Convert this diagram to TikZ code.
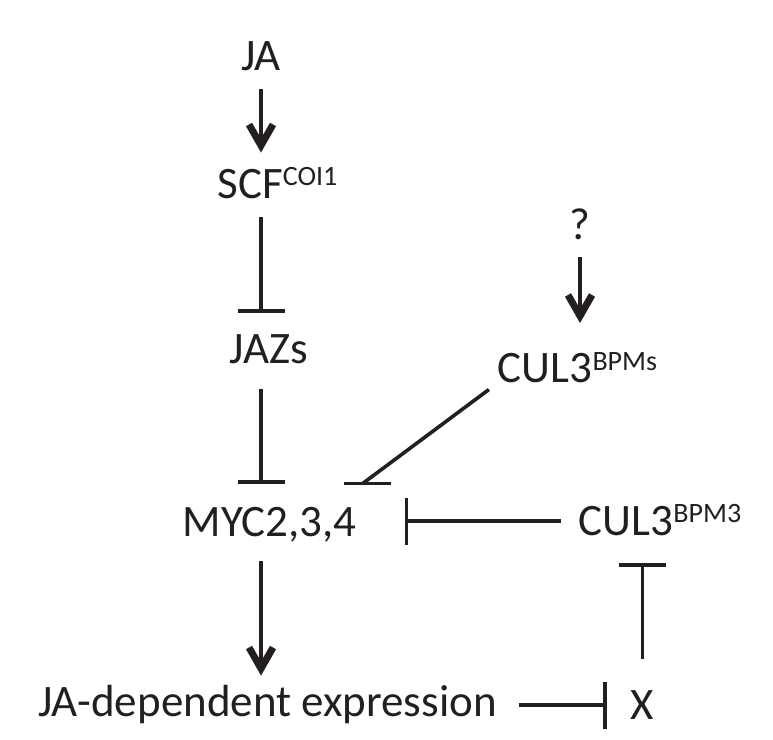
\documentclass[tikz,border=0pt]{standalone}
\usepackage{fontspec}
\setmainfont{Carlito}
\usepackage{tikz}
\usetikzlibrary{arrows.meta, positioning}

\definecolor{ink}{HTML}{231F20}
\newcommand{\sups}[1]{\raisebox{12.5pt}{\fontsize{28}{32}\selectfont #1}}

\begin{document}
\begin{tikzpicture}[
    x=1pt, y=1pt, on grid,
    lbl/.style={inner sep=0pt, text height=28.5pt, text depth=0pt, text=ink, font=\fontsize{45}{54}\selectfont},
    link/.style={line width=3.6pt, draw=ink},
    act/.style={link, -{Straight Barb[length=21pt, width=24pt, line width=3.4pt 1]}},
    inh/.style={link, -{Bar[width=47pt]}}
]
    \useasboundingbox (0,0) rectangle (773,-739);

    \node (ja) [lbl] at (261,-56.5) {JA};
    \node (scf) [lbl, below=127.5pt of ja, xshift=16.5pt] {SCF\sups{COI1}};
    \node (jazs) [lbl, below=165pt of scf, xshift=-8.5pt] {JAZs};
    \node (myc) [lbl, below=173pt of jazs, xshift=0.5pt] {MYC2,3,4};
    \node (expr) [lbl, below=180pt of myc, xshift=-2pt] {JA-dependent expression};
    \node (x) [lbl, right=375pt of expr, yshift=-3pt] {X};
    \node (bpm3) [lbl, above=184pt of x, xshift=17.5pt] {CUL3\sups{BPM3}};
    \node (q) [lbl] at (580,-225) {?};
    \node (bpms) [lbl, below=143.5pt of q, xshift=-2.5pt] {CUL3\sups{BPMs}};
    \coordinate (hit) at ([shift={(6pt,24pt)}]myc.north east);

    \draw [act, shorten <=18pt, shorten >=17pt] (ja.south) -- (ja |- scf.north);
    \draw [inh, shorten <=19pt, shorten >=22pt] (ja |- scf.south) -- (ja |- jazs.north);
    \draw [inh, shorten <=26pt, shorten >=24pt] (ja |- jazs.south) -- (ja |- myc.north);
    \draw [act, shorten <=25pt, shorten >=12pt] (ja |- myc.south) -- (ja |- expr.north);
    \draw [inh, shorten <=22pt, shorten >=24pt] (expr.east |- x) -- (x.west);
    \draw [inh, shorten <=32pt, shorten >=28pt] (x.north) -- (x.north |- bpm3.south);
    \draw [inh, shorten <=18pt, shorten >=48pt] (bpm3.west) -- (bpm3.west -| myc.east);
    \draw [act, shorten <=18pt, shorten >=31pt] (q.south) -- (q |- bpms.north);
    % diagonal with a flat bar
    \draw [link, shorten <=11pt] (bpms.south west) -- (hit);
    \draw [link] ([xshift=-19pt]hit) -- ([xshift=28pt]hit);
\end{tikzpicture}
\end{document}
